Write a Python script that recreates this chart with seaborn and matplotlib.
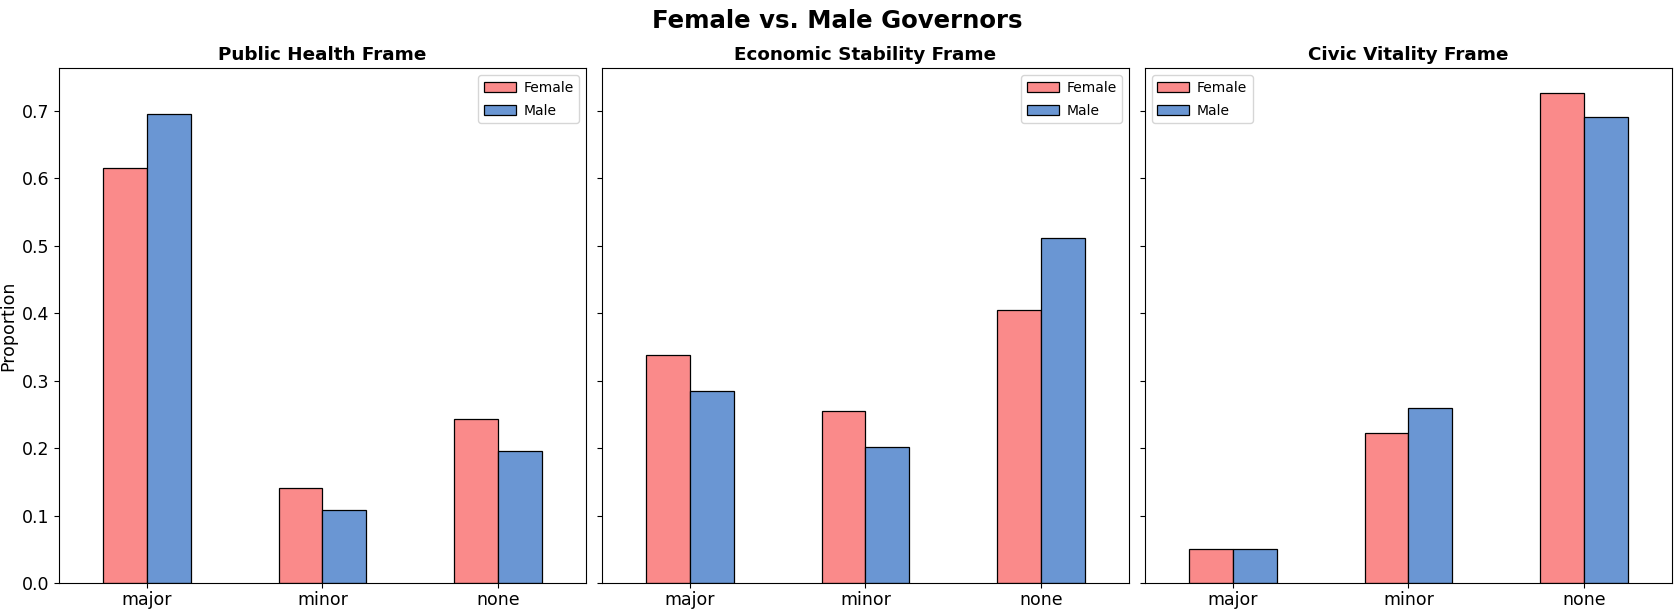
import matplotlib
matplotlib.use("Agg")
import matplotlib.pyplot as plt
import pandas as pd
import seaborn as sns

# proportions
categories = ['major', 'minor', 'none']
frames = ['Public Health Frame', 'Economic Stability Frame', 'Civic Vitality Frame']
genders = ['Female', 'Male']

health_female = [0.615, 0.141, 0.243]
health_male = [0.695, 0.108, 0.195]
econ_female = [0.338, 0.255, 0.404]
econ_male = [0.285, 0.201, 0.512]
civic_female = [0.050, 0.222, 0.727]
civic_male = [0.050, 0.259, 0.690]

colors = {'Female': '#FA8A8A', 'Male': '#6A96D3'}
legend_locs = ['upper right', 'upper right', 'upper left']

values = {
    frames[0]: {'Female': health_female, 'Male': health_male},
    frames[1]: {'Female': econ_female, 'Male': econ_male},
    frames[2]: {'Female': civic_female, 'Male': civic_male},
}

rows = []
for frame in frames:
    for gender in genders:
        for cat, val in zip(categories, values[frame][gender]):
            rows.append({'Frame': frame, 'Gender': gender, 'Level': cat, 'Proportion': val})
df = pd.DataFrame(rows)

fig, axes = plt.subplots(1, 3, figsize=(16.75, 6.1), dpi=100, sharey=True)
fig.subplots_adjust(left=0.0352, right=0.9982, top=0.8885, bottom=0.0443, wspace=0.0304)

ymax = df['Proportion'].max() * 1.05

for i, frame in enumerate(frames):
    ax = axes[i]
    sub = df[df['Frame'] == frame]
    sns.barplot(data=sub, x='Level', y='Proportion', hue='Gender', order=categories,
                hue_order=genders, palette=colors, width=0.5, gap=0,
                edgecolor='black', linewidth=0.9, saturation=1, ax=ax)
    ax.set_xlim(-0.5, 2.5)
    ax.set_ylim(0, ymax)
    ax.set_title(frame, fontsize=13.2, fontweight='bold')
    ax.set_xlabel('')
    ax.tick_params(axis='both', labelsize=12.5)
    ax.tick_params(axis='x', pad=2.5)
    if i == 0:
        ax.set_ylabel('Proportion', fontsize=12.5, labelpad=3)
    else:
        ax.set_ylabel('')
    ax.legend(loc=legend_locs[i], fontsize=10, labelspacing=0.65,
              handlelength=2.3, handletextpad=0.55)

fig.suptitle('Female vs. Male Governors', fontsize=17.6, fontweight='bold', y=0.985)

plt.savefig('out.png', dpi=100)
